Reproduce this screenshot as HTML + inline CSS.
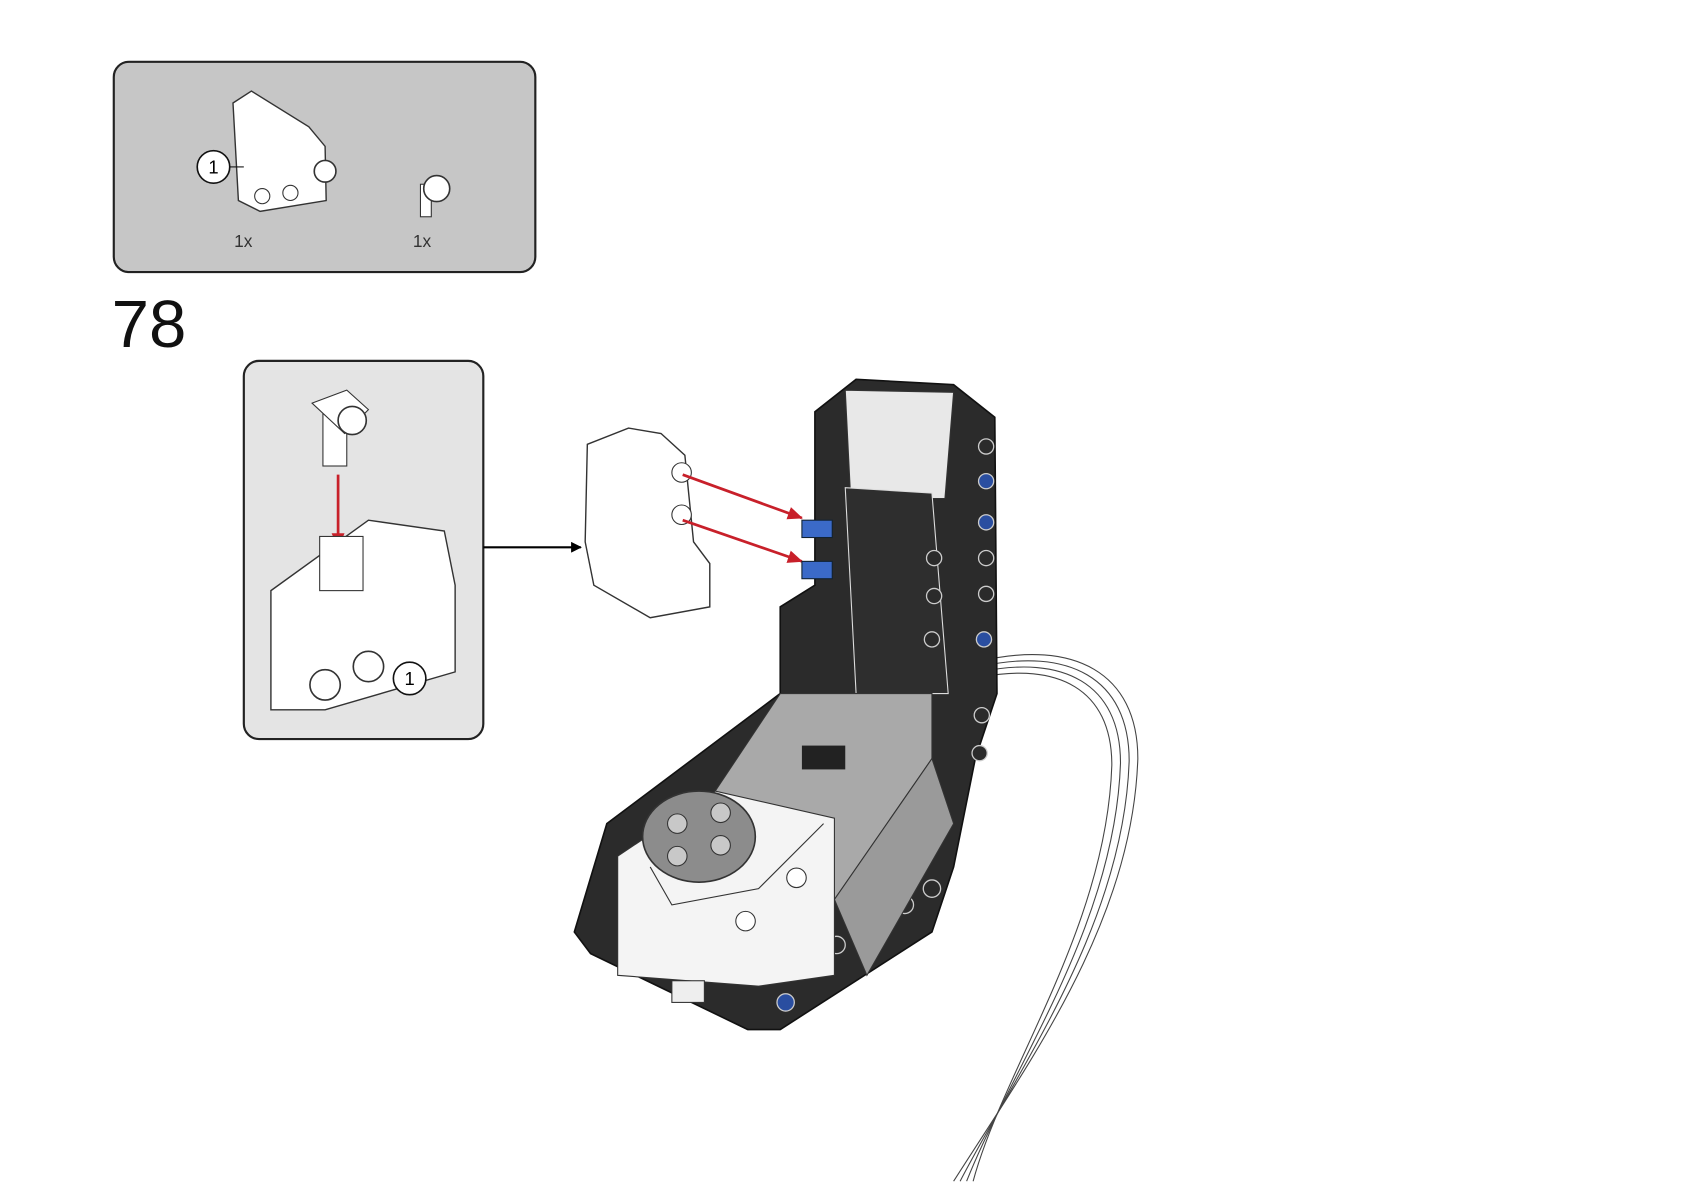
<!DOCTYPE html>
<html><head><meta charset="utf-8"><style>html,body{margin:0;padding:0;background:#fff}svg{display:block}</style></head>
<body>
<svg width="1684" height="1191" viewBox="0 0 1554 1099" xmlns="http://www.w3.org/2000/svg" font-family="Liberation Sans, sans-serif">
<defs><marker id="ab" markerWidth="10" markerHeight="10" refX="9" refY="5" orient="auto" markerUnits="userSpaceOnUse"><path d="M0,0 L10,5 L0,10z" fill="#000"/></marker>
<marker id="ar" markerWidth="14" markerHeight="12" refX="13" refY="6" orient="auto" markerUnits="userSpaceOnUse"><path d="M0,0 L14,6 L0,12z" fill="#c8202a"/></marker></defs>
<!-- parts box -->
<rect x="105" y="57" width="389" height="194" rx="14" fill="#c6c6c6" stroke="#222" stroke-width="2"/>
<path d="M215,95 L232,84 L285,117 L300,135 L301,185 L240,195 L220,185 Z" fill="#fff" stroke="#333" stroke-width="1.3"/>
<circle cx="300" cy="158" r="10" fill="#fff" stroke="#333" stroke-width="1.5"/>
<circle cx="242" cy="181" r="7" fill="#fff" stroke="#333"/><circle cx="268" cy="178" r="7" fill="#fff" stroke="#333"/>
<circle cx="197" cy="154" r="15" fill="#fff" stroke="#111" stroke-width="1.5"/><text x="197" y="160" font-size="17" text-anchor="middle">1</text>
<line x1="212" y1="154" x2="225" y2="154" stroke="#111"/>
<rect x="388" y="170" width="10" height="30" fill="#fff" stroke="#333"/>
<circle cx="403" cy="174" r="12" fill="#fff" stroke="#333" stroke-width="1.5"/>
<text x="216" y="228" font-size="16" fill="#333">1x</text><text x="381" y="228" font-size="16" fill="#333">1x</text>
<text x="103" y="320" font-size="62" fill="#111">78</text>
<!-- sub box -->
<rect x="225" y="333" width="221" height="349" rx="14" fill="#e4e4e4" stroke="#222" stroke-width="2"/>
<rect x="298" y="370" width="22" height="60" fill="#fff" stroke="#333"/>
<path d="M288,372 L320,360 L340,378 L318,400 Z" fill="#fff" stroke="#333"/>
<circle cx="325" cy="388" r="13" fill="#fff" stroke="#333" stroke-width="1.5"/>
<line x1="312" y1="438" x2="312" y2="505" stroke="#c8202a" stroke-width="2.5" marker-end="url(#ar)"/>
<path d="M250,545 L340,480 L410,490 L420,540 L420,620 L300,655 L250,655 Z" fill="#fff" stroke="#333" stroke-width="1.3"/>
<rect x="295" y="495" width="40" height="50" fill="#fff" stroke="#333"/>
<circle cx="300" cy="632" r="14" fill="#fff" stroke="#333" stroke-width="1.5"/><circle cx="340" cy="615" r="14" fill="#fff" stroke="#333" stroke-width="1.5"/>
<circle cx="378" cy="626" r="15" fill="#fff" stroke="#111" stroke-width="1.5"/><text x="378" y="632" font-size="17" text-anchor="middle">1</text>
<line x1="446" y1="505" x2="536" y2="505" stroke="#000" stroke-width="2" marker-end="url(#ab)"/>
<!-- white beam -->
<path d="M542,410 L580,395 L610,400 L632,420 L640,500 L655,520 L655,560 L600,570 L548,540 L540,500 Z" fill="#fff" stroke="#333" stroke-width="1.3"/>
<circle cx="629" cy="436" r="9" fill="#fff" stroke="#333"/><circle cx="629" cy="475" r="9" fill="#fff" stroke="#333"/>
<line x1="630" y1="438" x2="740" y2="478" stroke="#c8202a" stroke-width="2.5" marker-end="url(#ar)"/>
<line x1="630" y1="480" x2="740" y2="518" stroke="#c8202a" stroke-width="2.5" marker-end="url(#ar)"/>
<!-- cable -->
<g fill="none" stroke="#444" stroke-width="1">
<path d="M905,610 C990,590 1050,620 1050,700 C1045,850 950,980 880,1090"/>
<path d="M905,615 C985,597 1042,625 1042,702 C1037,852 942,982 886,1090"/>
<path d="M905,620 C980,604 1034,630 1034,704 C1029,854 934,984 892,1090"/>
<path d="M905,625 C975,611 1026,635 1026,706 C1021,856 926,986 898,1090"/>
</g>
<!-- black model -->
<path d="M752,380 L790,350 L880,355 L918,385 L920,640 L900,700 L880,800 L860,860 L720,950 L690,950 L545,880 L530,860 L560,760 L720,640 L720,560 L752,540 Z" fill="#2b2b2b" stroke="#111" stroke-width="1.5"/>
<path d="M780,360 L880,362 L872,460 L785,460 Z" fill="#e8e8e8" stroke="#333"/>
<path d="M780,450 L860,455 L875,640 L790,640 Z" fill="#2e2e2e" stroke="#ddd" stroke-width="1"/>
<g fill="#2b2b2b" stroke="#ccc" stroke-width="1.2">
<circle cx="910" cy="412" r="7"/><circle cx="910" cy="444" r="7" fill="#2a4ea0"/><circle cx="910" cy="482" r="7" fill="#2a4ea0"/><circle cx="910" cy="515" r="7"/><circle cx="910" cy="548" r="7"/><circle cx="908" cy="590" r="7" fill="#2a4ea0"/><circle cx="906" cy="660" r="7"/><circle cx="904" cy="695" r="7"/>
<circle cx="862" cy="515" r="7"/><circle cx="862" cy="550" r="7"/><circle cx="860" cy="590" r="7"/>
<circle cx="860" cy="820" r="8"/><circle cx="835" cy="835" r="8"/><circle cx="815" cy="848" r="8"/><circle cx="795" cy="860" r="8"/><circle cx="772" cy="872" r="8"/><circle cx="750" cy="890" r="8"/><circle cx="725" cy="925" r="8" fill="#2a4ea0"/>
</g>
<rect x="740" y="480" width="28" height="16" fill="#3b6ac8" stroke="#123"/><rect x="740" y="518" width="28" height="16" fill="#3b6ac8" stroke="#123"/>
<!-- motor -->
<path d="M660,730 L720,640 L860,640 L860,700 L770,830 L700,830 Z" fill="#a9a9a9" stroke="#333"/>
<path d="M770,830 L860,700 L880,760 L800,900 Z" fill="#9a9a9a" stroke="#333"/>
<rect x="740" y="688" width="40" height="22" fill="#222"/>
<path d="M570,790 L660,730 L770,755 L770,900 L700,910 L570,900 Z" fill="#f4f4f4" stroke="#333"/>
<path d="M600,800 L620,835 L700,820 L760,760" fill="none" stroke="#333"/>
<ellipse cx="645" cy="772" rx="52" ry="42" fill="#8c8c8c" stroke="#333" stroke-width="1.5"/>
<circle cx="625" cy="760" r="9" fill="#c8c8c8" stroke="#333"/><circle cx="665" cy="750" r="9" fill="#c8c8c8" stroke="#333"/><circle cx="625" cy="790" r="9" fill="#c8c8c8" stroke="#333"/><circle cx="665" cy="780" r="9" fill="#c8c8c8" stroke="#333"/>
<circle cx="735" cy="810" r="9" fill="#fff" stroke="#333"/><circle cx="688" cy="850" r="9" fill="#fff" stroke="#333"/>
<rect x="620" y="905" width="30" height="20" fill="#eee" stroke="#333"/>
</svg>
</body></html>
